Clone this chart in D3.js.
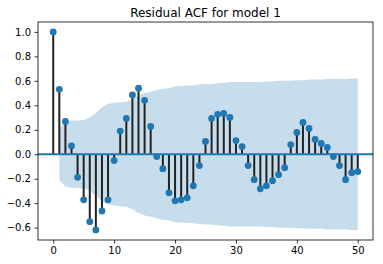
<!DOCTYPE html>
<html>
<head>
<meta charset="utf-8">
<script src="https://cdn.jsdelivr.net/npm/d3@7"></script>
<style>
  html, body { margin: 0; padding: 0; background: #fff; }
  svg { display: block; font-family: "DejaVu Sans", sans-serif; }
</style>
</head>
<body>
<div id="chart"></div>
<script>
// autocorrelation per lag
var lags = d3.range(0, 51);
var acf = [1.0, 0.531, 0.268, 0.068, -0.189, -0.373, -0.551, -0.619, -0.463, -0.373,
           -0.052, 0.189, 0.293, 0.485, 0.540, 0.441, 0.227, -0.019, -0.118, -0.315,
           -0.381, -0.373, -0.356, -0.258, -0.093, 0.104, 0.293, 0.326, 0.334, 0.301,
           0.112, 0.063, -0.093, -0.208, -0.282, -0.258, -0.216, -0.167, -0.110, 0.079,
           0.178, 0.260, 0.211, 0.121, 0.088, 0.055, -0.019, -0.093, -0.208, -0.151,
           -0.142];
// half width of the confidence band, lags 1..50
var bandLags = d3.range(1, 51);
var bandHalf = [0.21, 0.265, 0.275, 0.275, 0.28, 0.30, 0.34, 0.385, 0.41, 0.42,
                0.425, 0.43, 0.45, 0.48, 0.50, 0.51, 0.525, 0.535, 0.54, 0.555,
                0.56, 0.56, 0.565, 0.57, 0.575, 0.575, 0.58, 0.585, 0.59, 0.59,
                0.59, 0.59, 0.59, 0.59, 0.595, 0.595, 0.60, 0.60, 0.60, 0.605,
                0.605, 0.61, 0.61, 0.61, 0.615, 0.615, 0.615, 0.615, 0.62, 0.62];
var xTicks = [0, 10, 20, 30, 40, 50];
var yTicks = [-0.6, -0.4, -0.2, 0.0, 0.2, 0.4, 0.6, 0.8, 1.0];

var W = 383, H = 264;
var margin = {top: 22, right: 10, bottom: 24, left: 38};
var blue = "#1f77b4";

var svg = d3.select("#chart").append("svg")
    .attr("width", W).attr("height", H);

var x = d3.scaleLinear().domain([-2.5, 52.5]).range([margin.left, W - margin.right]);
var y = d3.scaleLinear().domain([-0.701, 1.081]).range([H - margin.bottom, margin.top]);

// confidence band
var area = d3.area()
    .x(function(d, i) { return x(bandLags[i]); })
    .y0(function(d) { return y(-d); })
    .y1(function(d) { return y(d); });
svg.append("path")
    .datum(bandHalf)
    .attr("d", area)
    .attr("fill", blue)
    .attr("fill-opacity", 0.25);

// stems
svg.selectAll(".stem")
    .data(acf)
    .enter()
    .append("line")
    .attr("class", "stem")
    .attr("x1", function(d, i) { return x(lags[i]); })
    .attr("x2", function(d, i) { return x(lags[i]); })
    .attr("y1", y(0))
    .attr("y2", function(d) { return y(d); })
    .attr("stroke", "#222")
    .attr("stroke-width", 2);

// zero line
svg.append("line")
    .attr("x1", margin.left).attr("x2", W - margin.right)
    .attr("y1", y(0)).attr("y2", y(0))
    .attr("stroke", blue)
    .attr("stroke-width", 2);

// markers
svg.selectAll(".dot")
    .data(acf)
    .enter()
    .append("circle")
    .attr("class", "dot")
    .attr("cx", function(d, i) { return x(lags[i]); })
    .attr("cy", function(d) { return y(d); })
    .attr("r", 3.4)
    .attr("fill", blue);

// axes
var xAxis = svg.append("g")
    .attr("transform", "translate(0," + (H - margin.bottom) + ")")
    .call(d3.axisBottom(x).tickValues(xTicks).tickSize(3.5).tickPadding(3.5)
          .tickFormat(d3.format("d")));
var yAxis = svg.append("g")
    .attr("transform", "translate(" + margin.left + ",0)")
    .call(d3.axisLeft(y).tickValues(yTicks).tickSize(3.5).tickPadding(3.5)
          .tickFormat(function(d) { return d3.format(".1f")(d).replace("-", "\u2212"); }));

[xAxis, yAxis].forEach(function(g) {
    g.select(".domain").remove();
    g.selectAll("line").attr("stroke", "#000").attr("stroke-width", 0.8);
    g.selectAll("text").attr("fill", "#000")
        .style("font-family", "DejaVu Sans").style("font-size", "10px");
});

// frame
svg.append("rect")
    .attr("x", margin.left).attr("y", margin.top)
    .attr("width", W - margin.right - margin.left)
    .attr("height", H - margin.bottom - margin.top)
    .attr("fill", "none")
    .attr("stroke", "#000")
    .attr("stroke-width", 0.8);

svg.append("text")
    .attr("x", (margin.left + W - margin.right) / 2)
    .attr("y", 17)
    .attr("text-anchor", "middle")
    .style("font-size", "12px")
    .text("Residual ACF for model 1");
</script>
</body>
</html>
